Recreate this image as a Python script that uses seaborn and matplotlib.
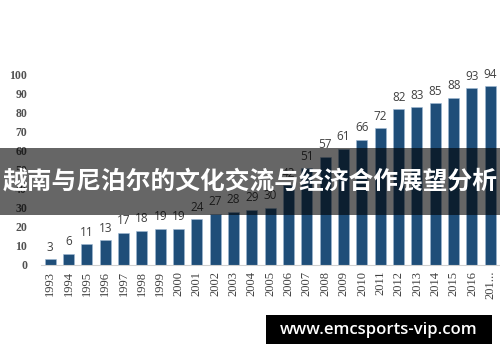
import matplotlib
matplotlib.use("Agg")
import matplotlib.pyplot as plt
import seaborn as sns
import pandas as pd
from matplotlib.patches import Rectangle

years = [str(y) for y in range(1993, 2018)]
values = [3, 6, 11, 13, 17, 18, 19, 19, 24, 27, 28, 29, 30, 42, 51, 57, 61, 66, 72, 82, 83, 85, 88, 93, 94]
tick_labels = years[:-1] + ["201..."]
yticks = [0, 10, 20, 30, 40, 50, 60, 70, 80, 90, 100]
title = "越南与尼泊尔的文化交流与经济合作展望分析"
watermark = "www.emcsports-vip.com"

sns.set_theme(style="white")
plt.rcParams['font.family'] = ['Noto Sans CJK SC', 'DejaVu Sans']

df = pd.DataFrame({"year": years, "value": values})

fig = plt.figure(figsize=(5, 3.62), dpi=100)
ax = fig.add_axes([0.082, 0.268, 0.917, 0.525])
sns.barplot(data=df, x="year", y="value", color="#1F4E79", width=0.6, ax=ax,
            saturation=1, edgecolor="#9fb8d4", linewidth=0.4)
ax.set_ylim(0, 100)
ax.set_xlim(-0.5, len(years) - 0.5)
ax.set_yticks(yticks)
ax.set_yticklabels([str(t) for t in yticks], family="Liberation Serif",
                   fontsize=8.5, fontweight="bold", color="#505050")
ax.set_xticks(range(len(years)))
ax.set_xticklabels(tick_labels, rotation=90, family="Liberation Serif",
                   fontsize=9, color="#404040")
ax.tick_params(axis="both", length=0, pad=4)
ax.tick_params(axis="y", pad=10)
ax.set_xlabel("")
ax.set_ylabel("")
for s in ["top", "right", "left"]:
    ax.spines[s].set_visible(False)
ax.spines["bottom"].set_color("#d0d0d0")
ax.spines["bottom"].set_linewidth(0.8)

labels = ax.bar_label(ax.containers[0], labels=[str(v) for v in values], padding=4,
                      fontsize=8.5, color="#404040", family="Open Sans")
for t in labels:
    t.set_clip_on(False)

# banner
fig.patches.append(Rectangle((0, 0.406), 1, 0.185, transform=fig.transFigure,
                             facecolor="black", alpha=0.6, edgecolor="none", zorder=5))
fig.text(0.5, 0.4986, title, ha="center", va="center", color="white",
         fontsize=17.8, fontweight="bold", family=["Noto Sans CJK SC", "DejaVu Sans"], zorder=6)

# watermark box
fig.patches.append(Rectangle((266 / 500, 1 - 344 / 362), 226 / 500, 29 / 362,
                             transform=fig.transFigure, facecolor="black",
                             edgecolor="none", zorder=5))
fig.text(379 / 500, 1 - 330 / 362, watermark, ha="center", va="center", color="white",
         fontsize=12, fontweight="semibold", family=["Open Sans", "DejaVu Sans"], zorder=6)

fig.savefig("out.png", dpi=100)
